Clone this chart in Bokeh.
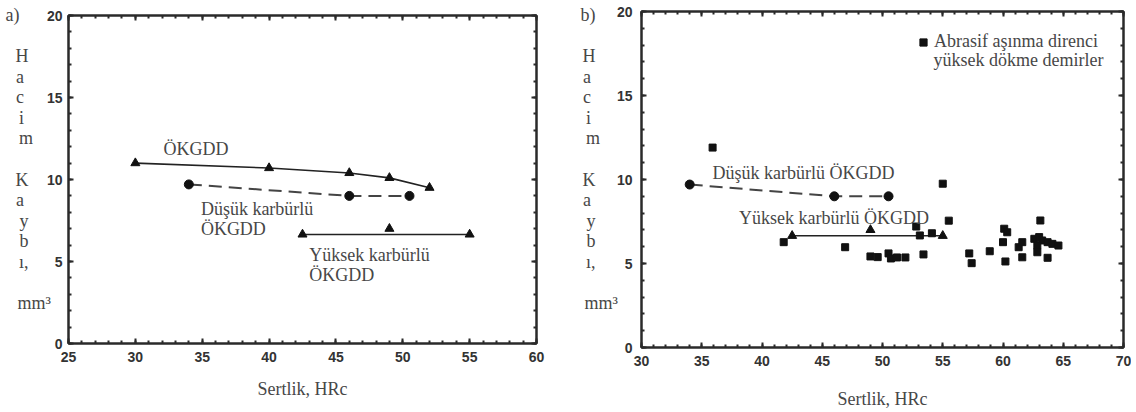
from bokeh.plotting import figure
from bokeh.models import (Range1d, LinearAxis, SingleIntervalTicker, Label,
                          Legend, LegendItem, CustomJSTickFormatter)
from bokeh.layouts import row
from bokeh.embed import file_html
from bokeh.resources import INLINE

# ---------------- data ----------------
# panel a
okgdd_x = [30, 40, 46, 49, 52]
okgdd_y = [11.0, 10.7, 10.4, 10.1, 9.5]
dusuk_x = [34, 46, 50.5]
dusuk_y = [9.7, 9.0, 9.0]
yuksek_x = [42.5, 49, 55]
yuksek_y = [6.65, 7.0, 6.65]

# panel b: abrasive-wear-resistant high cast irons
abr_x = [35.9, 55.0, 55.5, 52.8, 53.1, 54.1, 41.8, 46.9, 49.0, 49.6, 50.5, 50.7,
         51.2, 51.9, 53.4, 57.2, 57.4, 58.9, 60.1, 60.35, 60.0, 60.2, 61.3, 61.6,
         61.6, 63.1, 62.6, 63.0, 63.25, 62.85, 63.7, 64.1, 64.6, 62.85, 63.7]
abr_y = [11.9, 9.75, 7.55, 7.2, 6.67, 6.8, 6.27, 5.97, 5.42, 5.38, 5.6, 5.3,
         5.36, 5.36, 5.54, 5.6, 5.02, 5.73, 7.07, 6.86, 6.27, 5.12, 5.97, 6.27,
         5.37, 7.56, 6.47, 6.57, 6.37, 6.07, 6.27, 6.17, 6.07, 5.67, 5.34]

x_range_a = (25, 60)
x_range_b = (30, 70)
y_range = (0, 20)
ylab_letters = ["H", "a", "c", "i", "m", "", "K", "a", "y", "b", "ı,", "", "mm³"]
xlab = "Sertlik, HRc"

SERIF = "Liberation Serif"
SANS = "Liberation Sans"
TXT = "#474747"
AX = "#2a2a2a"
NB = "\u00a0"
# right-padding (in no-break spaces) so the right-aligned stacked title reads left-aligned
PAD = {"H": 5, "a": 6, "c": 6, "i": 6, "m": 4, "K": 5, "y": 5, "b": 5, "ı,": 5, "mm³": 0}


def make_fig(xr, fw, fh, bl, br, bt, bb, panel_tag, tag_pad, ytick_std, ylab_std, xlab_std):
    p = figure(frame_width=fw, frame_height=fh, min_border_left=bl,
               min_border_right=br, min_border_top=bt, min_border_bottom=bb,
               x_range=Range1d(*xr), y_range=Range1d(*y_range),
               output_backend="svg", toolbar_location=None, tools="")
    p.frame_align = False
    p.grid.visible = False
    p.outline_line_color = AX
    p.outline_line_width = 2
    p.background_fill_color = "white"
    p.border_fill_color = "white"
    xa = p.xaxis[0]
    ya = p.yaxis[0]
    extra_top = LinearAxis()
    extra_right = LinearAxis()
    p.add_layout(extra_top, "above")
    p.add_layout(extra_right, "right")
    for ax in [xa, ya, extra_top, extra_right]:
        ax.ticker = SingleIntervalTicker(interval=5, num_minor_ticks=5)
        ax.axis_line_color = AX
        ax.axis_line_width = 2
        ax.major_tick_in = 5
        ax.major_tick_out = 0
        ax.minor_tick_in = 3
        ax.minor_tick_out = 0
        ax.major_tick_line_color = AX
        ax.minor_tick_line_color = AX
        ax.major_tick_line_width = 2
        ax.minor_tick_line_width = 2
        ax.major_label_text_font = SANS
        ax.major_label_text_font_style = "bold"
        ax.major_label_text_font_size = "14px"
        ax.major_label_text_color = "#333333"
    for ax in [extra_top, extra_right]:
        ax.formatter = CustomJSTickFormatter(code="return ''")
        ax.major_label_text_font_size = "1px"
        ax.major_label_standoff = 0
    xa.major_label_standoff = 8
    ya.major_label_standoff = ytick_std
    xa.axis_label = xlab
    xa.axis_label_text_font = SERIF
    xa.axis_label_text_font_style = "normal"
    xa.axis_label_text_font_size = "18px"
    xa.axis_label_text_color = TXT
    xa.axis_label_standoff = xlab_std
    # stacked (letter-per-line) y title, with the panel tag on top
    lines = [panel_tag + NB * tag_pad, NB]
    for t in ylab_letters:
        lines.append(t + NB * PAD[t] if t else NB)
    lines += [NB, NB]
    ya.axis_label = "\n".join(lines)
    ya.axis_label_orientation = "horizontal"
    ya.axis_label_text_font = SERIF
    ya.axis_label_text_font_style = "normal"
    ya.axis_label_text_font_size = "18px"
    ya.axis_label_text_line_height = 1.027
    ya.axis_label_text_color = TXT
    ya.axis_label_standoff = ylab_std
    return p


def add_text(p, x, y, t, units="data", size="18px"):
    p.add_layout(Label(x=x, y=y, x_units=units, y_units=units, text=t,
                       text_align="left", text_baseline="middle",
                       text_font=SERIF, text_font_size=size, text_color=TXT))


# ---------------- panel a ----------------
pa = make_fig(x_range_a, 468, 328, 68, 32, 15, 62, "a)", 7, 6, -7, 14)
pa.line(okgdd_x, okgdd_y, line_color="#222222", line_width=1.6)
pa.scatter(okgdd_x, okgdd_y, marker="triangle", size=9, color="#111111")
pa.line(dusuk_x, dusuk_y, line_color="#444444", line_width=2, line_dash="13 7")
pa.scatter(dusuk_x, dusuk_y, marker="circle", size=9, color="#111111")
pa.line([yuksek_x[0], yuksek_x[-1]], [yuksek_y[0], yuksek_y[-1]],
        line_color="#222222", line_width=1.6)
pa.scatter(yuksek_x, yuksek_y, marker="triangle", size=9, color="#111111")

add_text(pa, 32.1, 11.83, "ÖKGDD")
add_text(pa, 34.9, 8.23, "Düşük karbürlü")
add_text(pa, 34.9, 7.0, "ÖKGDD")
add_text(pa, 43.0, 5.4, "Yüksek karbürlü")
add_text(pa, 43.0, 4.15, "ÖKGDD")

# ---------------- panel b ----------------
pb = make_fig(x_range_b, 482, 336, 73, 8, 11, 62, "b)", 5, 9, -4, 20)
pb.line(dusuk_x, dusuk_y, line_color="#444444", line_width=2, line_dash="13 7")
pb.scatter(dusuk_x, dusuk_y, marker="circle", size=9, color="#111111")
pb.line([yuksek_x[0], yuksek_x[-1]], [yuksek_y[0], yuksek_y[-1]],
        line_color="#222222", line_width=1.6)
pb.scatter(yuksek_x, yuksek_y, marker="triangle", size=9, color="#111111")
sq = pb.scatter(abr_x, abr_y, marker="square", size=7, color="#111111")

add_text(pb, 35.9, 10.36, "Düşük karbürlü ÖKGDD")
add_text(pb, 38.1, 7.7, "Yüksek karbürlü ÖKGDD")

leg = Legend(items=[LegendItem(label="Abrasif aşınma direnci", renderers=[sq])],
             location=(273, 295), border_line_color=None, background_fill_alpha=0,
             padding=0, margin=0, glyph_width=18, glyph_height=18, label_standoff=2,
             label_height=20, label_text_font=SERIF, label_text_font_size="18px",
             label_text_color=TXT, label_text_baseline="middle")
pb.add_layout(leg)
add_text(pb, 292, 288, "yüksek dökme demirler", units="screen")

layout = row(pa, pb)
open("out.html", "w").write(file_html(layout, INLINE))
